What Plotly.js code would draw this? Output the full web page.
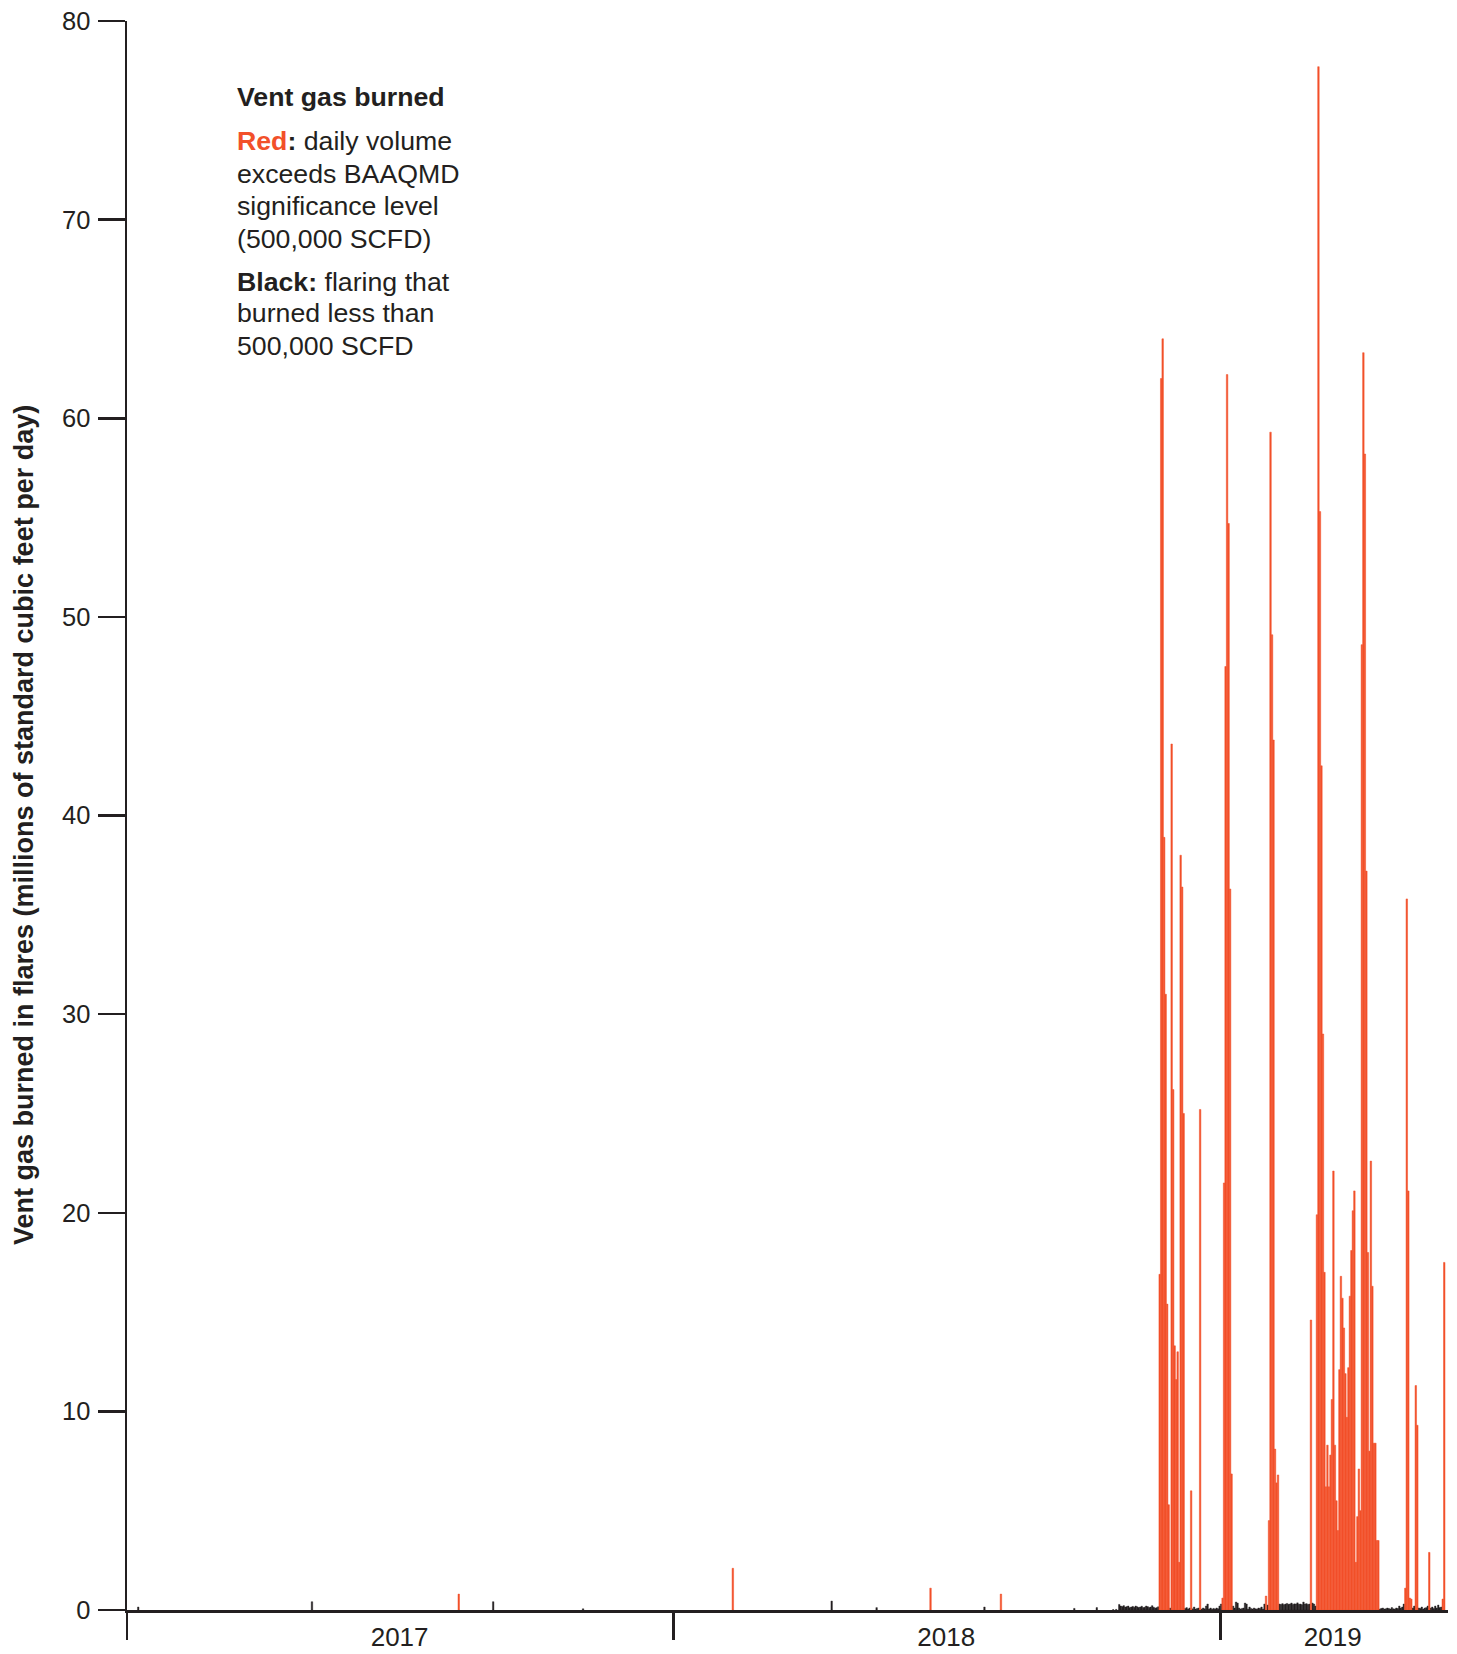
<!DOCTYPE html>
<html>
<head>
<meta charset="utf-8">
<script src="https://cdn.plot.ly/plotly-3.0.1.min.js"></script>
<style>html,body{margin:0;padding:0;background:#fff;}#chart{width:1457px;height:1654px;}</style>
</head>
<body>
<div id="chart"></div>
<script>
// ---- Data (millions of standard cubic feet per day) ----
// Isolated flaring days before the autumn 2018 period
const earlyDates  = ['2017-01-08','2017-05-04','2017-08-10','2017-09-02','2017-11-01','2018-02-09','2018-04-16','2018-05-16','2018-06-21','2018-07-27','2018-08-07','2018-09-25','2018-10-10'];
const earlyValues = [0.15, 0.42, 0.8, 0.42, 0.06, 2.1, 0.45, 0.12, 1.1, 0.15, 0.8, 0.08, 0.12];

// Daily values, one per day starting at dailyStart (2018-10-20 .. 2019-05-30)
const dailyStart = '2018-10-20';
const dailyValues = [
  // Oct 20 - Oct 25
  0, 0.02, 0, 0.03, 0, 0.28,
  // Oct 26 - Nov 20
  0.2,0.18,0.22,0.15,0.17,0.2,0.12,0.15,0.18,0.14,0.2,0.16,0.13,0.15,0.19,0.12,0.14,0.2,0.17,0.13,0.15,0.22,0.14,0.1,0.12,0.16,
  // Nov 21 - Dec 18
  16.9,62.0,64.0,38.9,31.0,15.4,5.3,0.1,43.6,26.2,13.3,11.6,13.0,2.4,38.0,36.4,25.0,0.08,0.12,0.05,0.1,6.0,0.06,0.15,0.05,0.08,0.1,25.2,
  // Dec 19 - Dec 31
  0.05,0.1,0.06,0.2,0.3,0.05,0.1,0.04,0.08,0.05,0.1,0.06,0.2,
  // Jan 1 - Jan 8
  0.3,0.6,21.5,47.5,62.2,54.7,36.3,6.85,
  // Jan 9 - Jan 30
  0.2,0.1,0.4,0.35,0.1,0.05,0.08,0.1,0.35,0.3,0.05,0.15,0.08,0.05,0.1,0.06,0.05,0.1,0.08,0.15,0.05,0.3,
  // Jan 31 - Feb 8
  0.7,0.25,4.5,59.3,49.1,43.8,8.1,6.4,6.8,
  // Feb 9 - Mar 1
  0.3,0.28,0.32,0.27,0.3,0.33,0.29,0.3,0.35,0.28,0.31,0.3,0.36,0.29,0.3,0.27,0.4,0.3,0.32,0.28,0.3,
  // Mar 2 - Mar 5
  14.6,0.35,0.3,0.2,
  // Mar 6 - Apr 16
  19.9,77.7,55.3,42.5,29.0,17.0,6.2,8.3,6.2,7.8,10.6,22.1,8.3,5.5,4.0,12.1,16.8,15.7,14.2,11.9,9.7,12.2,15.8,18.1,20.1,21.1,2.4,4.7,7.1,5.0,48.6,63.3,58.2,37.2,18.0,8.0,22.6,16.3,8.4,8.4,3.5,3.5,
  // Apr 17 - May 3
  0.05,0.08,0.1,0.05,0.06,0.1,0.08,0.05,0.12,0.06,0.05,0.1,0.08,0.2,0.1,0.15,0.3,
  // May 4 - May 30
  1.1,35.8,21.1,0.6,0.55,0.1,0.2,11.3,9.3,0.1,0.08,0.15,0.05,0.1,0.12,0.2,2.9,0.1,0.15,0.08,0.2,0.1,0.25,0.12,0.15,0.55,17.5
];

const threshold = 0.5; // BAAQMD significance level, MMSCFD

// Axis labels
const xRange = ['2017-01-01', '2019-06-02'];
const yearBoundaries = ['2017-01-01', '2018-01-01', '2019-01-01'];
const yearLabelDates = ['2017-07-02', '2018-07-02', '2019-03-17'];
const yearLabels = ['2017', '2018', '2019'];
const yTicks = [0, 10, 20, 30, 40, 50, 60, 70, 80];
const yTitle = 'Vent gas burned in flares (millions of standard cubic feet per day)';
const noteLines = [
  '<b>Vent gas burned</b>',
  '<b><span style="color:#F2502A">Red</span>:</b> daily volume',
  'exceeds BAAQMD',
  'significance level',
  '(500,000 SCFD)',
  '<b>Black:</b> flaring that',
  'burned less than',
  '500,000 SCFD'
];

// ---- Build series ----
const RED = '#F2502A', INK = '#231F20';
const allDates = earlyDates.slice();
const allValues = earlyValues.slice();
const startMs = Date.parse(dailyStart + 'T00:00:00Z');
dailyValues.forEach((v, i) => {
  allDates.push(new Date(startMs + i * 86400000).toISOString().slice(0, 10));
  allValues.push(v);
});
const redX = [], redY = [], blkX = [], blkY = [];
allValues.forEach((v, i) => {
  if (v <= 0) return;
  if (v > threshold) { redX.push(allDates[i]); redY.push(v); }
  else { blkX.push(allDates[i]); blkY.push(v); }
});

const DAY = 86400000;
const traces = [
  { type: 'bar', x: blkX, y: blkY, width: DAY, offset: 0, marker: { color: INK, line: { width: 0.4, color: INK } }, hoverinfo: 'x+y' },
  { type: 'bar', x: redX, y: redY, width: DAY, offset: 0, marker: { color: RED, line: { width: 0.5, color: RED } }, hoverinfo: 'x+y' },
  { type: 'scatter', x: [xRange[0]], y: [0], xaxis: 'x2', yaxis: 'y', mode: 'none', hoverinfo: 'skip', showlegend: false }
];

// ---- Layout ----
const L = 127, R = 9, T = 21, B = 44, W = 1457, H = 1654;
const plotW = W - L - R, plotH = H - T - B;
const px2paperX = px => (px - L) / plotW;
const px2paperY = py => (H - B - py) / plotH;

const FONT = 'Liberation Sans, Arial, sans-serif';
const noteY = [97, 141, 174, 206, 239, 282, 313, 346];
const annotations = noteLines.map((t, i) => ({
  text: t, xref: 'paper', yref: 'paper', x: px2paperX(235), y: px2paperY(noteY[i]),
  xanchor: 'left', yanchor: 'middle', showarrow: false,
  font: { size: 26.7, color: INK, family: FONT }
}));
annotations.push({
  text: '<b>' + yTitle + '</b>', xref: 'paper', yref: 'paper',
  x: px2paperX(24), y: px2paperY(825), xanchor: 'center', yanchor: 'middle',
  textangle: -90, showarrow: false,
  font: { size: 27, color: INK, family: FONT }
});

const layout = {
  width: W, height: H,
  margin: { l: L, r: R, t: T, b: B, pad: 0 },
  paper_bgcolor: '#ffffff', plot_bgcolor: '#ffffff',
  showlegend: false, barmode: 'overlay',
  font: { family: FONT, color: INK, size: 25 },
  xaxis: {
    type: 'date', range: xRange, tickmode: 'array', tickvals: yearBoundaries,
    showticklabels: false, ticks: 'outside', ticklen: 27, tickwidth: 2.5, tickcolor: INK,
    showline: true, linewidth: 2.5, linecolor: INK, showgrid: false, zeroline: false
  },
  xaxis2: {
    type: 'date', range: xRange, overlaying: 'x', anchor: 'y', side: 'bottom',
    tickmode: 'array', tickvals: yearLabelDates, ticktext: yearLabels,
    ticks: '', showline: false, showgrid: false, zeroline: false,
    tickfont: { size: 26, color: INK }, ticklabelstandoff: 9
  },
  yaxis: {
    range: [0, 80], tickmode: 'array', tickvals: yTicks,
    ticks: 'outside', ticklen: 27, tickwidth: 2.5, tickcolor: INK,
    showline: true, linewidth: 2.5, linecolor: INK, showgrid: false, zeroline: false,
    tickfont: { size: 25.5, color: INK }, ticklabelstandoff: 2
  },
  annotations: annotations
};

Plotly.newPlot('chart', traces, layout, { displayModeBar: false, staticPlot: true });
</script>
</body>
</html>
